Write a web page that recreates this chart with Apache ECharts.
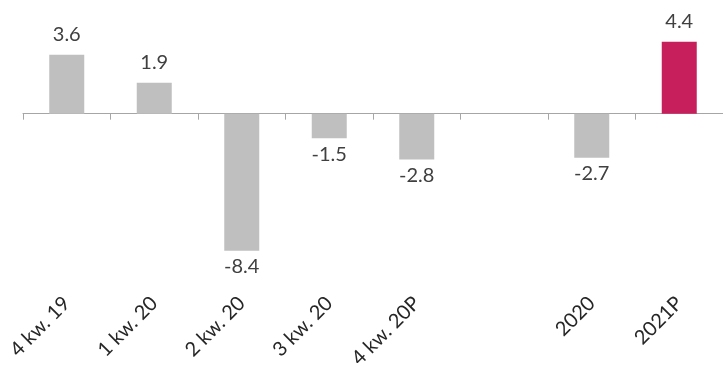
<!DOCTYPE html>
<html><head><meta charset="utf-8">
<script src="https://cdn.jsdelivr.net/npm/echarts@6/dist/echarts.min.js"></script>
<style>html,body{margin:0;padding:0;background:#fff}#c{width:723px;height:374px}</style>
</head><body><div id="c"></div>
<script>
var categories = ["4 kw. 19","1 kw. 20","2 kw. 20","3 kw. 20","4 kw. 20P","","2020","2021P"];
var values = [3.6, 1.9, -8.4, -1.5, -2.8, null, -2.7, 4.4];
var barColors = ["#BFBFBF","#BFBFBF","#BFBFBF","#BFBFBF","#BFBFBF","#BFBFBF","#BFBFBF","#C71F5B"];
var FONT = "Lato";
var chart = echarts.init(document.getElementById('c'), null, {renderer:'canvas'});
chart.setOption({
  animation:false,
  grid:{left:23, right:-4, top:32, height:245, containLabel:false},
  xAxis:[{
    type:'category', data:categories, position:'bottom',
    axisLine:{onZero:true, lineStyle:{color:'#A6A6A6', width:1}},
    axisTick:{show:true, length:6, lineStyle:{color:'#A6A6A6'}},
    axisLabel:{show:false}
  },{
    type:'category', data:categories, position:'bottom',
    axisLine:{show:false, onZero:false}, axisTick:{show:false},
    axisLabel:{rotate:45, margin:23, color:'#262626', fontSize:20, fontFamily:FONT, interval:0}
  }],
  yAxis:{type:'value', min:-10, max:5, show:false, splitLine:{show:false}},
  series:[{
    type:'bar', xAxisIndex:0, barWidth:'40%',
    data: values.map(function(v,i){return {value:v, itemStyle:{color:barColors[i]}};}),
    label:{show:true, position:'outside', distance:8, offset:[0,-2], color:'#404040', fontSize:20, fontFamily:FONT,
      formatter:function(p){return p.value==null?'':p.value.toFixed(1);}}
  }]
});
</script></body></html>
